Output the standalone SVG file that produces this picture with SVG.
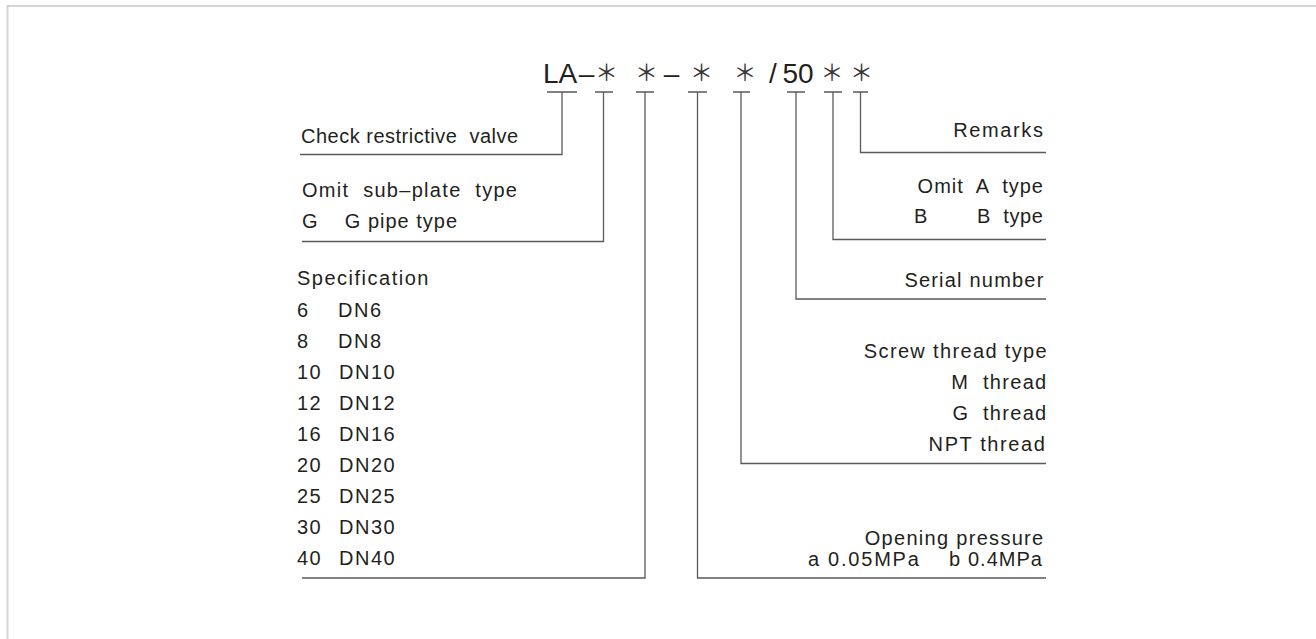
<svg xmlns="http://www.w3.org/2000/svg" width="1316" height="639" viewBox="0 0 1316 639">
<style>
.t{font-family:"Liberation Sans",Arial,sans-serif;font-size:20px;fill:#231f20;letter-spacing:1.5px;white-space:pre}
.e{text-anchor:end}
.h{font-family:"Liberation Sans",Arial,sans-serif;font-size:28px;fill:#231f20;text-anchor:middle}
.s{font-family:"Noto Sans CJK SC","DejaVu Sans",sans-serif;font-size:23px;fill:#3a3637;text-anchor:middle}
.c{fill:none;stroke:#5a5a5a;stroke-width:1.3}
</style>
<rect width="1316" height="639" fill="#ffffff"/>
<rect x="7.5" y="6" width="1400" height="700" fill="none" stroke="#d4d4d4" stroke-width="2"/>
<g id="code">
<text class="h" x="560" y="83">LA</text>
<text class="h" x="586.5" y="83">–</text>
<text class="s" x="606.5" y="81">＊</text>
<text class="s" x="646.5" y="81">＊</text>
<text class="h" x="671.5" y="83">–</text>
<text class="s" x="701.5" y="81">＊</text>
<text class="s" x="745" y="81">＊</text>
<text class="h" x="773" y="83">/</text>
<text class="h" x="798" y="83">50</text>
<text class="s" x="832" y="81">＊</text>
<text class="s" x="861.5" y="81">＊</text>
</g>
<g id="connectors" class="c">
<path d="M547 92H577M562 92V154.5H300"/>
<path d="M595 92H613M603.5 92V241.5H302"/>
<path d="M636 92H654M645 92V578H302"/>
<path d="M688 92H707M697.5 92V578H1046"/>
<path d="M733 92H750M741 92V463.5H1046"/>
<path d="M787 92H805M796 92V299H1046"/>
<path d="M824 92H842M833 92V239.5H1046"/>
<path d="M853 92H868M860.5 92V152.5H1046"/>
</g>
<g id="n-valve">
<text class="t" x="301" y="143" style="letter-spacing:0.5px">Check restrictive  valve</text>
</g>
<g id="n-plate">
<text class="t" x="302" y="197" style="letter-spacing:1.3px">Omit  sub–plate  type</text>
<text class="t" x="302" y="228" style="letter-spacing:1px">G    G pipe type</text>
</g>
<g id="n-spec">
<text class="t" x="297" y="285">Specification</text>
<text class="t" x="297" y="317">6</text><text class="t" x="338" y="317">DN6</text>
<text class="t" x="297" y="348">8</text><text class="t" x="338" y="348">DN8</text>
<text class="t" x="297" y="378.5">10</text><text class="t" x="339" y="378.5">DN10</text>
<text class="t" x="297" y="409.5">12</text><text class="t" x="339" y="409.5">DN12</text>
<text class="t" x="297" y="440.5">16</text><text class="t" x="339" y="440.5">DN16</text>
<text class="t" x="297" y="471.5">20</text><text class="t" x="339" y="471.5">DN20</text>
<text class="t" x="297" y="502.5">25</text><text class="t" x="339" y="502.5">DN25</text>
<text class="t" x="297" y="533.5">30</text><text class="t" x="339" y="533.5">DN30</text>
<text class="t" x="297" y="564.5">40</text><text class="t" x="339" y="564.5">DN40</text>
</g>
<g id="n-remarks">
<text class="t e" x="1044.5" y="137" style="letter-spacing:1.6px">Remarks</text>
</g>
<g id="n-type">
<text class="t e" x="1044" y="193" style="letter-spacing:1px">Omit  A  type</text>
<text class="t" x="914" y="223">B</text>
<text class="t e" x="1043.5" y="223" style="letter-spacing:0.6px">B  type</text>
</g>
<g id="n-serial">
<text class="t e" x="1044.5" y="287" style="letter-spacing:1.2px">Serial number</text>
</g>
<g id="n-thread">
<text class="t e" x="1048" y="358" style="letter-spacing:1.35px">Screw thread type</text>
<text class="t e" x="1047.5" y="389" style="letter-spacing:1.3px">M  thread</text>
<text class="t e" x="1047.5" y="420" style="letter-spacing:1.3px">G  thread</text>
<text class="t e" x="1046.5" y="451" style="letter-spacing:1.6px">NPT thread</text>
</g>
<g id="n-pressure">
<text class="t e" x="1044.5" y="545" style="letter-spacing:1.3px">Opening pressure</text>
<text class="t" y="566"><tspan x="808">a</tspan><tspan x="828" style="letter-spacing:1.8px">0.05MPa</tspan><tspan x="949">b</tspan><tspan x="968" style="letter-spacing:1px">0.4MPa</tspan></text>
</g>
</svg>
